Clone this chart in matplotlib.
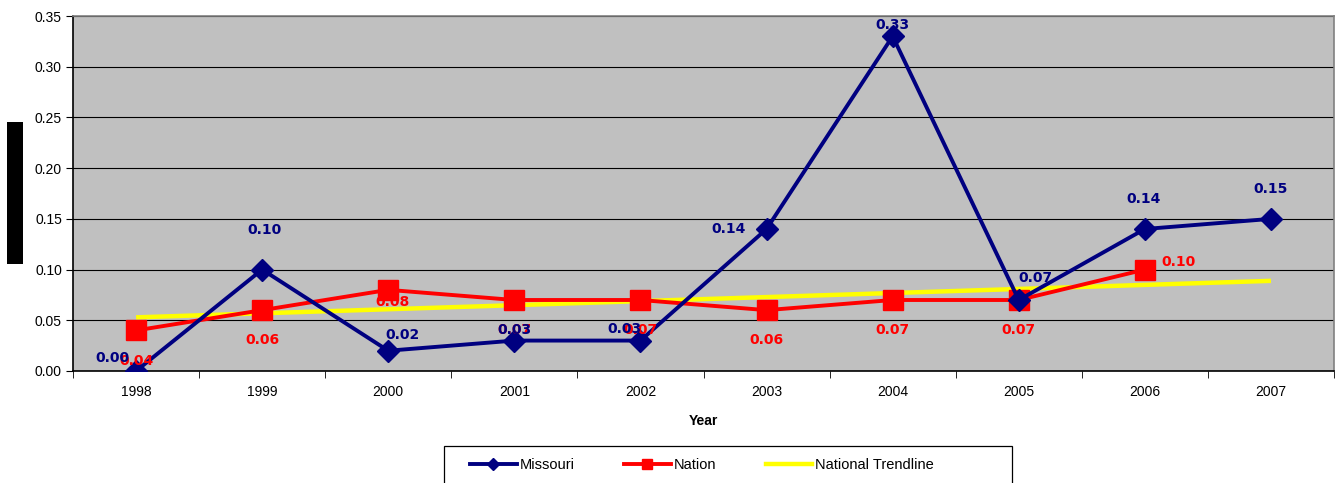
import numpy as np
import matplotlib
matplotlib.use("Agg")
import matplotlib.pyplot as plt
from matplotlib.lines import Line2D
from matplotlib.patches import Rectangle

plt.rcParams['font.family'] = ['Liberation Sans', 'DejaVu Sans']

years = ['1998', '1999', '2000', '2001', '2002', '2003', '2004', '2005', '2006', '2007']
missouri = [0.00, 0.10, 0.02, 0.03, 0.03, 0.14, 0.33, 0.07, 0.14, 0.15]
nation = [0.04, 0.06, 0.08, 0.07, 0.07, 0.06, 0.07, 0.07, 0.10]

# label offsets in pixels (dx, dy) relative to each point
missouri_offsets = [(-24, 13), (2, 40), (14, 16), (0, 11), (-16, 12), (-38, 0), (0, 11), (17, 22), (-1, 30), (0, 30)]
nation_offsets = [(0, -31), (0, -30), (4, -12), (0, -30), (0, -30), (0, -30), (0, -30), (0, -30), (34, 8)]

navy = '#000080'
red = '#FF0000'
yellow = '#FFFF00'

W, H = 1336, 483
fig = plt.figure(figsize=(W / 100, H / 100), dpi=100)
ax = fig.add_axes([73 / W, 1 - 371 / H, (1334 - 73) / W, (371 - 16) / H])
ax.set_facecolor('#C0C0C0')

x = np.arange(len(years))
xn = np.arange(len(nation))

# linear trend through the national series, extended across all years
coef = np.polyfit(xn, nation, 1)
trend = np.polyval(coef, x)

ax.plot(x, trend, color=yellow, lw=3.2, zorder=3, solid_capstyle='butt')
ax.plot(xn, nation, color=red, lw=2.8, marker='s', ms=14, mec=red, mfc=red, zorder=4)
ax.plot(x, missouri, color=navy, lw=2.8, marker='D', ms=11.5, mec=navy, mfc=navy, zorder=5)

for xi, v, (dx, dy) in zip(x, missouri, missouri_offsets):
    ax.annotate(f'{v:.2f}', (xi, v), xytext=(dx, dy), textcoords='offset pixels',
                ha='center', va='center', color=navy, fontsize=10, fontweight='bold',
                family=['DejaVu Sans'], zorder=7)
for xi, v, (dx, dy) in zip(xn, nation, nation_offsets):
    ax.annotate(f'{v:.2f}', (xi, v), xytext=(dx, dy), textcoords='offset pixels',
                ha='center', va='center', color=red, fontsize=10, fontweight='bold',
                family=['DejaVu Sans'], zorder=6)

ax.set_xlim(-0.5, len(years) - 0.5)
ax.set_ylim(0, 0.35)
yt = np.arange(0, 0.351, 0.05)
ax.set_yticks(yt)
ax.set_yticklabels([f'{t:.2f}' for t in yt], fontsize=10)
ax.yaxis.grid(True, color='black', lw=0.8)
ax.set_axisbelow(True)

ax.set_xticks(x)
ax.set_xticklabels(years, fontsize=10)
ax.set_xticks(np.arange(-0.5, len(years), 1), minor=True)
ax.tick_params(axis='x', which='major', length=0, pad=10)
ax.tick_params(axis='x', which='minor', length=5, direction='out', color='black')
ax.tick_params(axis='y', length=5, direction='out', pad=3)

for side in ['top', 'right']:
    ax.spines[side].set_color('#808080')
    ax.spines[side].set_linewidth(1.2)
for side in ['left', 'bottom']:
    ax.spines[side].set_color('black')
    ax.spines[side].set_linewidth(1.2)

ax.set_xlabel('Year', fontsize=10, fontweight='bold', labelpad=11)

# concealed y-axis title block
fig.patches.append(Rectangle((7 / W, 1 - 264 / H), 16 / W, 142 / H,
                             transform=fig.transFigure, facecolor='black', edgecolor='none'))

# legend box running off the bottom edge
fig.patches.append(Rectangle((444 / W, -10 / H), (1012 - 444) / W, (483 - 446 + 10) / H,
                             transform=fig.transFigure, facecolor='white',
                             edgecolor='black', lw=0.9))

handles = [
    Line2D([], [], color=navy, lw=2.8, marker='D', ms=6, mec=navy, mfc=navy),
    Line2D([], [], color=red, lw=2.8, marker='s', ms=7, mec=red, mfc=red),
    Line2D([], [], color=yellow, lw=3.2),
]
leg = fig.legend(handles, ['Missouri', 'Nation', 'National Trendline'], ncol=3,
                 loc='center left', bbox_to_anchor=(464 / W, 1 - 465 / H),
                 frameon=False, fontsize=10.5,
                 handlelength=3.2, handletextpad=0.2, columnspacing=3.4,
                 borderaxespad=0, borderpad=0.4)

fig.savefig('out.png', dpi=100)
